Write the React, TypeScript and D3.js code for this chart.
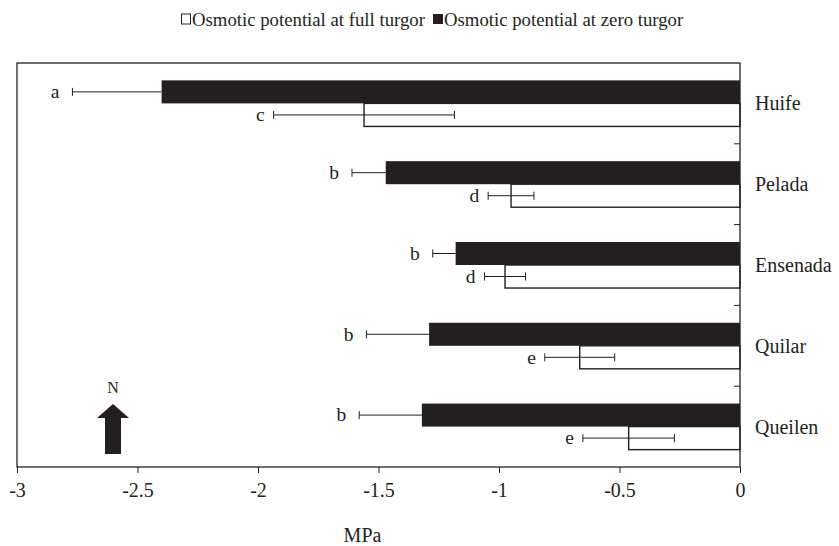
import React from 'react';
import * as d3 from 'd3';

const sites = ['Huife', 'Pelada', 'Ensenada', 'Quilar', 'Queilen'];
// osmotic potential at zero turgor (black) with one-sided error
const zeroTurgor = [-2.40, -1.47, -1.18, -1.29, -1.32];
const zeroTurgorErr = [0.37, 0.14, 0.095, 0.26, 0.26];
const zeroLetters = ['a', 'b', 'b', 'b', 'b'];
// osmotic potential at full turgor (white) with two-sided error
const fullTurgor = [-1.56, -0.95, -0.975, -0.665, -0.462];
const fullTurgorErr = [0.375, 0.095, 0.085, 0.145, 0.19];
const fullLetters = ['c', 'd', 'd', 'e', 'e'];
const xTicks = [-3, -2.5, -2, -1.5, -1, -0.5, 0];

const W = 839;
const H = 546;
const margin = { top: 63, right: 99, bottom: 79, left: 17 };
const FONT = '"Liberation Serif", "Times New Roman", Times, serif';
const INK = '#231f20';

const App = () => {
  const innerW = W - margin.left - margin.right;
  const innerH = H - margin.top - margin.bottom;

  const x = d3.scaleLinear().domain([-3, 0]).range([0, innerW]);
  const y = d3.scaleBand<string>().domain(sites).range([0, innerH])
    .paddingInner(0.43).paddingOuter(0.215);
  const sub = d3.scaleBand<string>().domain(['zero', 'full']).range([0, y.bandwidth()]);
  const bh = sub.bandwidth();
  const step = y.step();

  const xAxis = d3.axisBottom(x)
    .tickValues(xTicks)
    .tickSize(6)
    .tickPadding(10)
    .tickFormat(d => String(d));

  const cap = 4;

  return (
    <svg width={W} height={H} style={{ position: 'absolute', left: 0, top: 0, background: '#fff' }}
      fontFamily={FONT}>
      {/* legend */}
      <g transform="translate(181,19)" fontFamily={FONT}>
        <rect x={0.5} y={-5} width={9} height={10} fill="#fff" stroke={INK} strokeWidth={1} />
        <text x={11} y={0} dy="0.35em" fontSize={18.75} fill={INK}>Osmotic potential at full turgor</text>
        <rect x={252} y={-5} width={10} height={10} fill={INK} />
        <text x={263} y={0} dy="0.35em" fontSize={18.75} fill={INK}>Osmotic potential at zero turgor</text>
      </g>

      <g transform={`translate(${margin.left},${margin.top})`}>
        {/* bars */}
        {sites.map((s, i) => {
          const y0 = (y(s) ?? 0) + (sub('zero') ?? 0);
          const y1 = (y(s) ?? 0) + (sub('full') ?? 0);
          const zLo = x(zeroTurgor[i] - zeroTurgorErr[i]);
          const fLo = x(fullTurgor[i] - fullTurgorErr[i]);
          const fHi = x(fullTurgor[i] + fullTurgorErr[i]);
          const cy0 = y0 + bh / 2;
          const cy1 = y1 + bh / 2;
          return (
            <g key={s}>
              <rect x={x(zeroTurgor[i])} y={y0} width={x(0) - x(zeroTurgor[i])} height={bh} fill={INK} />
              <rect x={x(fullTurgor[i])} y={y1} width={x(0) - x(fullTurgor[i])} height={bh}
                fill="#fff" stroke={INK} strokeWidth={1.4} />
              {/* error bars */}
              <line x1={zLo} x2={x(zeroTurgor[i])} y1={cy0} y2={cy0} stroke={INK} strokeWidth={1} />
              <line x1={zLo} x2={zLo} y1={cy0 - cap} y2={cy0 + cap} stroke={INK} strokeWidth={1} />
              <line x1={fLo} x2={fHi} y1={cy1} y2={cy1} stroke={INK} strokeWidth={1} />
              <line x1={fLo} x2={fLo} y1={cy1 - cap} y2={cy1 + cap} stroke={INK} strokeWidth={1} />
              <line x1={fHi} x2={fHi} y1={cy1 - cap} y2={cy1 + cap} stroke={INK} strokeWidth={1} />
              <text x={zLo - 13} y={cy0} dy="0.32em" textAnchor="end" fontSize={19.5} fill={INK}
                fontFamily={FONT}>{zeroLetters[i]}</text>
              <text x={fLo - 9} y={cy1} dy="0.32em" textAnchor="end" fontSize={19.5} fill={INK}
                fontFamily={FONT}>{fullLetters[i]}</text>
            </g>
          );
        })}

        {/* frame */}
        <rect x={0} y={0} width={innerW} height={innerH} fill="none" stroke={INK} strokeWidth={1.3} />

        {/* category boundary ticks and labels on the zero line */}
        {sites.slice(1).map((s, i) => (
          <line key={s} x1={innerW - 6} x2={innerW} y1={(i + 1) * step} y2={(i + 1) * step}
            stroke={INK} strokeWidth={1} />
        ))}
        {sites.map(s => (
          <text key={s} x={innerW + 15} y={(y(s) ?? 0) + y.bandwidth() / 2} dy="0.35em"
            fontSize={20} fill={INK} fontFamily={FONT}>{s}</text>
        ))}

        {/* x axis */}
        <g
          transform={`translate(0,${innerH})`}
          fontFamily={FONT}
          ref={node => {
            if (!node) return;
            const g = d3.select(node).call(xAxis);
            g.attr('font-family', FONT);
            g.select('.domain').remove();
            g.selectAll('.tick line').attr('stroke', INK).attr('stroke-width', 1);
            g.selectAll('.tick text').attr('font-size', 20).attr('font-family', FONT).attr('fill', INK);
          }}
        />
        <text x={x(-1.5) - 16} y={innerH + 75} textAnchor="middle" fontSize={20} fill={INK}
          fontFamily={FONT}>MPa</text>

        {/* north arrow */}
        <g transform="translate(96,0)" fill={INK}>
          <text x={0} y={330} textAnchor="middle" fontSize={16} fontFamily={FONT}>N</text>
          <path d="M0,341 L16,355 L8,355 L8,391 L-8,391 L-8,355 L-16,355 Z" />
        </g>
      </g>
    </svg>
  );
};

export default App;
